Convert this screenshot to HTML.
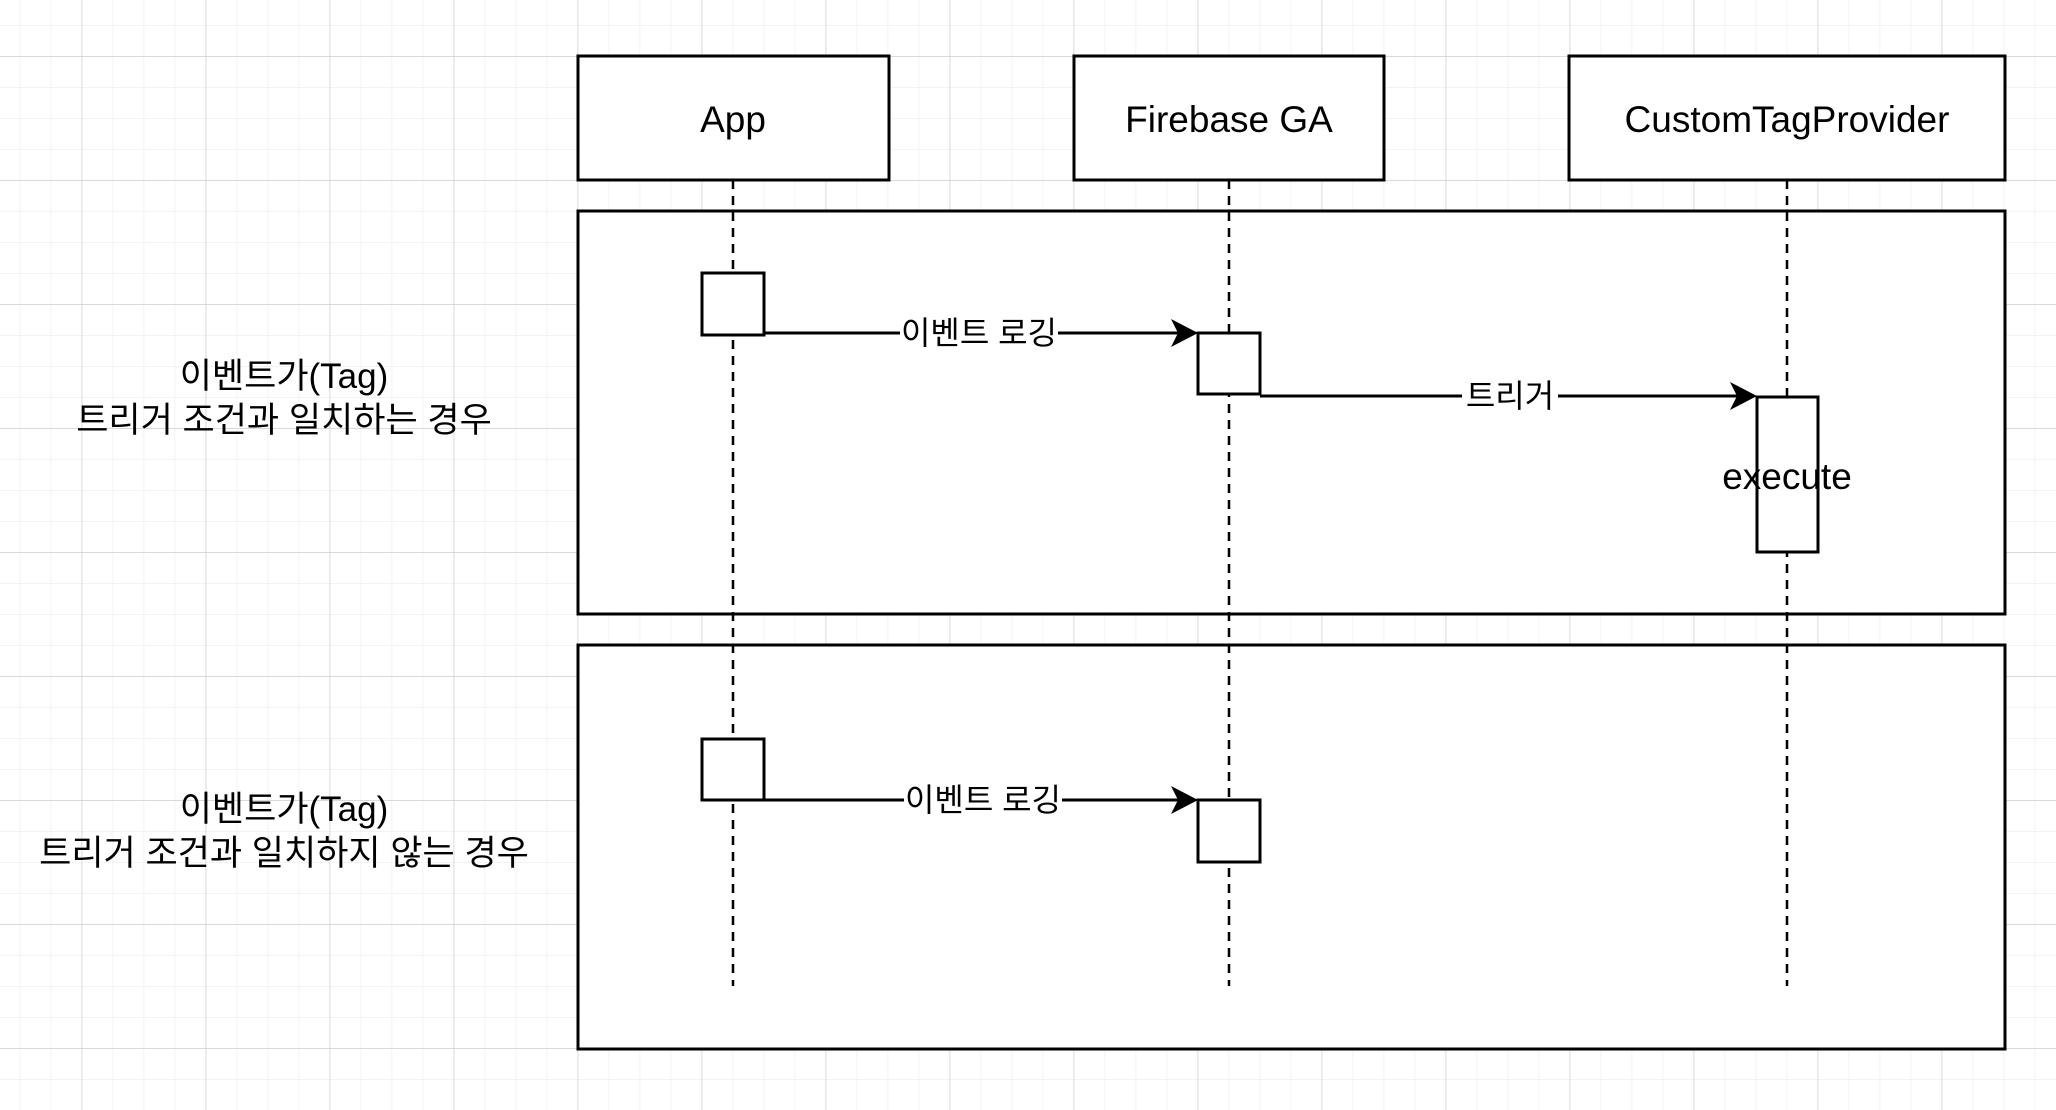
<!DOCTYPE html>
<html><head><meta charset="utf-8"><style>
html,body{margin:0;padding:0;background:#fff;}
svg{display:block;}
text{font-family:"Liberation Sans","Noto Sans CJK KR",sans-serif;fill:#000;}
</style></head><body>
<svg width="2056" height="1110" viewBox="0 0 2056 1110" xmlns="http://www.w3.org/2000/svg">
<defs>
<pattern id="minor" x="19.5" y="25" width="31" height="31" patternUnits="userSpaceOnUse">
<path d="M0 0V31M0 0H31" stroke="#efefef" stroke-width="1.5" fill="none"/>
</pattern>
<pattern id="major" x="81.5" y="56" width="124" height="124" patternUnits="userSpaceOnUse">
<path d="M0 0V124M0 0H124" stroke="#d0d0d0" stroke-width="1.5" fill="none"/>
</pattern>
</defs>
<rect width="2056" height="1110" fill="url(#minor)"/>
<rect width="2056" height="1110" fill="url(#major)"/>
<g stroke="#000" stroke-width="3" fill="#fff">
<rect x="578" y="56" width="311" height="124"/>
<rect x="1074" y="56" width="310" height="124"/>
<rect x="1569" y="56" width="436" height="124"/>
<rect x="578" y="211" width="1427" height="403"/>
<rect x="578" y="645" width="1427" height="404"/>
</g>
<g stroke="#000" stroke-width="2.5" stroke-dasharray="9 7" fill="none">
<line x1="733" y1="180" x2="733" y2="986"/>
<line x1="1229" y1="180" x2="1229" y2="986"/>
<line x1="1787" y1="180" x2="1787" y2="986"/>
</g>
<g stroke="#000" stroke-width="3" fill="#fff">
<rect x="702" y="273" width="62" height="62"/>
<rect x="1198" y="333" width="62" height="61"/>
<rect x="1757" y="397" width="61" height="155"/>
<rect x="702" y="739" width="62" height="61"/>
<rect x="1198" y="800" width="62" height="62"/>
</g>
<g stroke="#000" stroke-width="3" fill="none">
<line x1="764" y1="333" x2="1185" y2="333"/>
<line x1="1260" y1="396" x2="1745" y2="396"/>
<line x1="764" y1="800" x2="1185" y2="800"/>
</g>
<g fill="#000">
<path d="M1198 333 L1171 319 L1178 333 L1171 347Z"/>
<path d="M1757 396 L1730 382 L1737 396 L1730 410Z"/>
<path d="M1198 800 L1171 786 L1178 800 L1171 814Z"/>
</g>
<g font-size="32" text-anchor="middle">
<rect x="900" y="313" width="158" height="40" fill="#fff"/>
<text x="979" y="344">이벤트 로깅</text>
<rect x="1462" y="376" width="96" height="40" fill="#fff"/>
<text x="1510" y="407">트리거</text>
<rect x="904" y="780" width="158" height="40" fill="#fff"/>
<text x="983" y="811">이벤트 로깅</text>
</g>
<g font-size="37" text-anchor="middle">
<text x="733" y="132">App</text>
<text x="1229" y="132">Firebase GA</text>
<text x="1787" y="132">CustomTagProvider</text>
<text x="1787" y="489">execute</text>
</g>
<g font-size="35" text-anchor="middle">
<text x="284" y="388">이벤트가(Tag)</text>
<text x="284" y="432">트리거 조건과 일치하는 경우</text>
<text x="284" y="821">이벤트가(Tag)</text>
<text x="284" y="865">트리거 조건과 일치하지 않는 경우</text>
</g>
</svg>
</body></html>
